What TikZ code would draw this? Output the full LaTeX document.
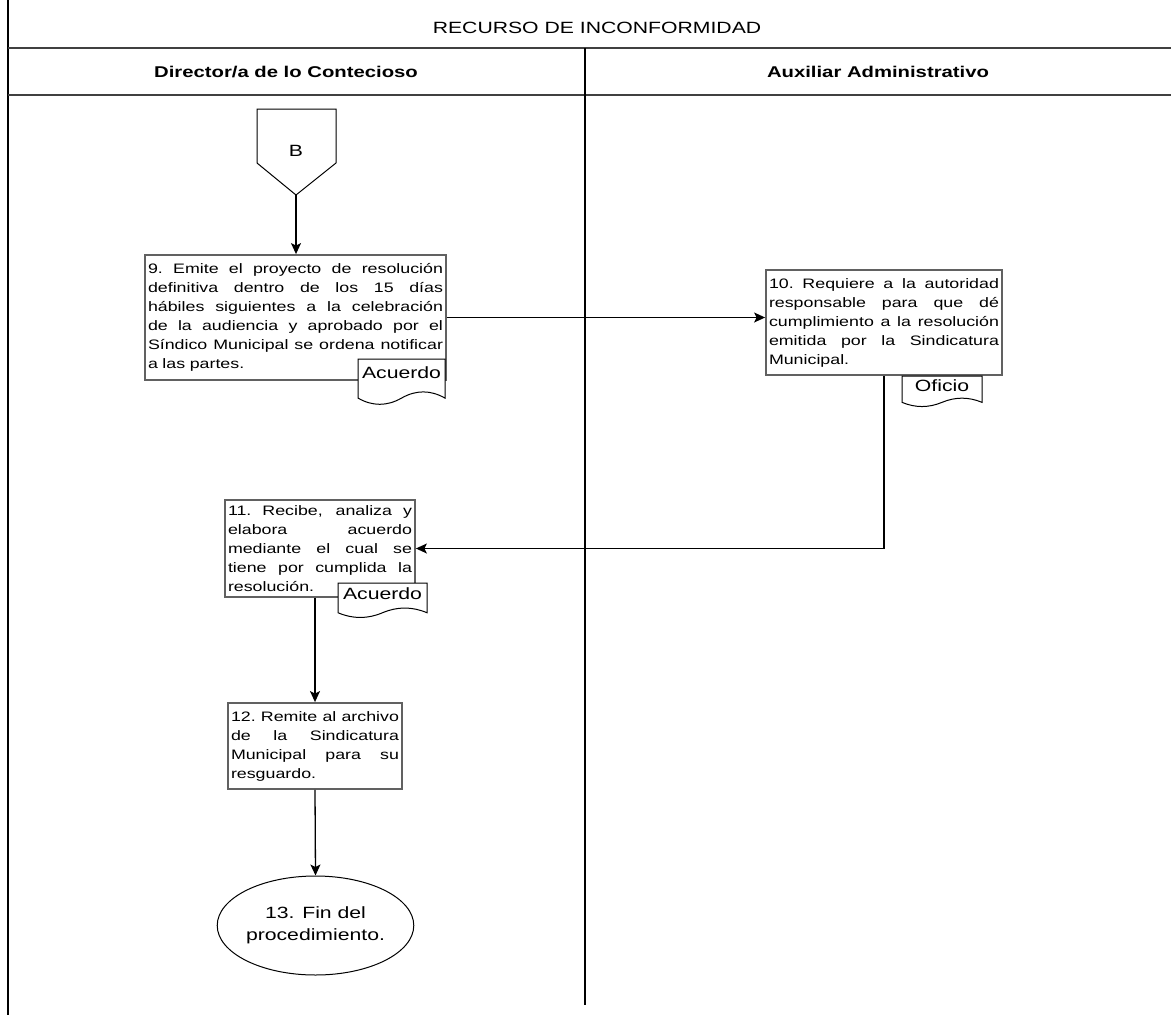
\documentclass[tikz,border=0pt]{standalone}
\usepackage{fontspec}
\setmainfont{Liberation Sans}[FakeStretch=1.3]
\usetikzlibrary{arrows.meta,shapes.geometric}

% text sizes
\newcommand\bodyfont{\fontsize{13.7}{19}\selectfont}
\newcommand\bigfont{\fontsize{16.3}{21.5}\selectfont}
\newcommand\headfont{\fontsize{15.6}{19}\selectfont\bfseries}
% a fully justified line inside a step box
\newcommand\jline[1]{\makebox[\hsize][s]{\spaceskip=.278em plus 1fil\xspaceskip=\spaceskip #1}}

\tikzset{
  lanerule/.style={draw=black!75, line width=1.5pt},
  laneedge/.style={draw=black, line width=1.1pt},
  stepbox/.style={rectangle, draw=black!62, line width=1.8pt, fill=white,
    inner xsep=3pt, inner ysep=0pt, align=left, font=\bodyfont},
  flow/.style={draw=black, line width=1.3pt,
    -{Stealth[length=11pt,width=10pt,inset=2.5pt]}},
  docline/.style={draw=black, line width=1pt, fill=white},
  doclabel/.style={inner sep=0pt, font=\bigfont},
  connector/.style={draw=black, line width=1pt, fill=white},
}

% document symbol: name, x1, y1, x2, y2, label
\newcommand\docshape[6]{%
  \pgfmathsetmacro\dsW{#4-#2}%
  \pgfmathsetmacro\dsH{#5-#3}%
  \pgfmathsetmacro\dsD{0.3*\dsH}%
  \pgfmathsetmacro\dsB{#5-0.5*\dsD}%
  \pgfmathsetmacro\dsM{#2+0.5*\dsW}%
  \draw[docline] (#2,#3) -- (#4,#3) -- (#4,\dsB)
    .. controls ({#4-\dsW/6},{\dsB-0.6*\dsD}) and ({#2+2*\dsW/3},{\dsB-0.6*\dsD}) .. (\dsM,\dsB)
    .. controls ({#2+\dsW/3},{\dsB+0.6*\dsD}) and ({#2+\dsW/6},{\dsB+0.6*\dsD}) .. (#2,\dsB)
    -- cycle;
  \node[doclabel] (#1) at (\dsM,{#3+0.3*\dsH}) {#6};
}

\begin{document}
\begin{tikzpicture}[x=1pt, y=-1pt]
\useasboundingbox (0,0) rectangle (1171,1015);

% swimlane frame
\draw[laneedge] (8,0) -- (8,1015);
\draw[lanerule] (8,48) -- (1171,48);
\draw[lanerule] (8,95) -- (1171,95);
\draw[laneedge] (585,48) -- (585,1005);

\node[font=\bigfont] (title) at (597,28) {RECURSO DE INCONFORMIDAD};
\node[font=\headfont] (laneA) at (286,72) {Director/a de lo Contecioso};
\node[font=\headfont] (laneB) at (878,72) {Auxiliar Administrativo};

% off-page connector B
\draw[connector] (257,109) -- (336,109) -- (336,163) -- (296,195) -- (257,163) -- cycle;
\node[font=\bigfont] (Blabel) at (296,151) {B};
\coordinate (Btip) at (296,195);

% process steps
\node[stepbox, minimum width=301pt, minimum height=125pt, text width=295pt]
  (b9) at (295.5,317.5) {%
  \jline{9. Emite el proyecto de resolución}\\
  \jline{definitiva dentro de los 15 días}\\
  \jline{hábiles siguientes a la celebración}\\
  \jline{de la audiencia y aprobado por el}\\
  \jline{Síndico Municipal se ordena notificar}\\
  a las partes.};

\node[stepbox, minimum width=236pt, minimum height=105pt, text width=230pt]
  (b10) at (884,322.5) {%
  \jline{10. Requiere a la autoridad}\\
  \jline{responsable para que dé}\\
  \jline{cumplimiento a la resolución}\\
  \jline{emitida por la Sindicatura}\\
  Municipal.};

\node[stepbox, minimum width=190pt, minimum height=97pt, text width=184pt]
  (b11) at (320,548.5) {%
  \jline{11. Recibe, analiza y}\\
  \jline{elabora acuerdo}\\
  \jline{mediante el cual se}\\
  \jline{tiene por cumplida la}\\
  resolución.};

\node[stepbox, minimum width=174pt, minimum height=86pt, text width=168pt]
  (b12) at (315,746) {%
  \jline{12. Remite al archivo}\\
  \jline{de la Sindicatura}\\
  \jline{Municipal para su}\\
  resguardo.};

\node[ellipse, draw=black, line width=1pt, fill=white, minimum width=183pt,
  minimum height=99pt, inner sep=0pt, align=center, font=\bigfont]
  (fin) at (315.5,925.5) {13. Fin del\\procedimiento.};

% documents produced
\docshape{doc9}{358}{359}{445}{405}{Acuerdo}
\docshape{doc10}{902}{376}{982}{407}{Oficio}
\docshape{doc11}{338}{583}{427}{618}{Acuerdo}

% flow
\draw[flow] (Btip) -- (Btip |- b9.north);
\draw[flow] (b9.east) -- (b9.east -| b10.west);
\draw[flow] (b10.south) |- (b11.east);
\draw[flow] (b11.south -| b12.north) -- (b12.north);
\draw[flow] (b12.south) -- (fin.north);
\end{tikzpicture}
\end{document}
